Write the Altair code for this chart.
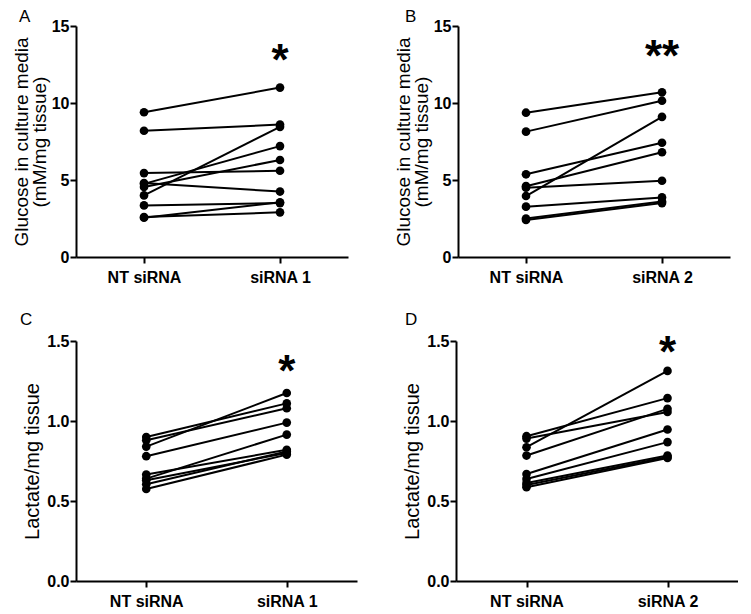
import altair as alt
import pandas as pd

# ---- data ----
cats_top_a = ["NT siRNA", "siRNA 1"]
cats_top_b = ["NT siRNA", "siRNA 2"]

glu_nt_a = [9.4, 8.2, 5.45, 4.0, 4.55, 4.75, 4.8, 3.35, 2.6, 2.55]
glu_si1 = [11.0, 8.6, 5.6, 8.45, 6.3, 7.2, 4.25, 3.5, 2.9, 3.55]

glu_nt_b = [9.37, 8.14, 5.37, 4.6, 3.96, 4.5, 3.27, 2.5, 2.4]
glu_si2 = [10.7, 10.15, 7.42, 6.8, 9.1, 4.95, 3.87, 3.6, 3.5]

lac_nt_c = [0.90, 0.84, 0.88, 0.78, 0.665, 0.64, 0.63, 0.605, 0.575]
lac_si1 = [1.11, 1.175, 1.08, 0.99, 0.82, 0.915, 0.80, 0.81, 0.79]

lac_nt_d = [0.836, 0.905, 0.89, 0.784, 0.669, 0.638, 0.613, 0.586, 0.60]
lac_si2 = [1.313, 1.143, 1.056, 1.076, 0.947, 0.868, 0.784, 0.769, 0.775]

glu_ticks = [0, 5, 10, 15]
lac_ticks = [0.0, 0.5, 1.0, 1.5]

FONT = "Liberation Sans"


def panel(nt, si, cats, ymax, ticks, fmt, title, tfs, lh, tpad, extent,
          letter, letter_x, letter_y, star, star_y, width, height):
    n = len(nt)
    df = pd.DataFrame({
        "subject": list(range(n)) * 2,
        "group": [cats[0]] * n + [cats[1]] * n,
        "value": nt + si,
    })
    x = alt.X("group:N", sort=cats,
              scale=alt.Scale(type="point", padding=0.5, domain=cats),
              axis=alt.Axis(title=None, labelAngle=0, labelFontSize=16,
                            labelFontWeight="bold", labelColor="black",
                            tickSize=6, tickWidth=2, tickColor="black",
                            domainColor="black", domainWidth=2,
                            labelPadding=6, grid=False))
    y = alt.Y("value:Q",
              scale=alt.Scale(domain=[0, ymax], nice=False, zero=True),
              axis=alt.Axis(values=ticks, format=fmt, title=title,
                            titleFontSize=tfs, titleFontWeight="normal",
                            titleColor="black", titleLineHeight=lh,
                            titlePadding=tpad, minExtent=extent,
                            maxExtent=extent, labelFontSize=16,
                            labelFontWeight="bold", labelColor="black",
                            tickSize=6, tickWidth=2, tickColor="black",
                            domainColor="black", domainWidth=2,
                            labelPadding=1, grid=False))
    base = alt.Chart(df)
    lines = base.mark_line(color="black", strokeWidth=2).encode(
        x=x, y=y, detail="subject:N")
    pts = base.mark_circle(size=75, color="black", opacity=1).encode(x=x, y=y)
    let = alt.Chart(pd.DataFrame({"t": [letter]})).mark_text(
        align="left", baseline="alphabetic", fontSize=17, color="black"
    ).encode(x=alt.value(letter_x), y=alt.value(letter_y), text="t:N")
    st = alt.Chart(pd.DataFrame({"group": [cats[1]], "s": [star]})).mark_text(
        align="center", baseline="alphabetic", fontSize=44,
        fontWeight="bold", color="black"
    ).encode(x=x, y=alt.value(star_y), text="s:N")
    return alt.layer(lines, pts, st, let).properties(width=width, height=height)


glu_title = ["Glucose in culture media", "(mM/mg tissue)"]
lac_title = ["", "Lactate/mg tissue"]

A = panel(glu_nt_a, glu_si1, cats_top_a, 15, glu_ticks, "d", glu_title, 19,
          18, 1, 26, "A", -57, -4, "*", 49, 272, 231)
B = panel(glu_nt_b, glu_si2, cats_top_b, 15, glu_ticks, "d", glu_title, 19,
          18, 1, 26, "B", -53, -4, "**", 44.5, 272, 231)
C = panel(lac_nt_c, lac_si1, cats_top_a, 1.5, lac_ticks, ".1f", lac_title, 20,
          8, 1, 33, "C", -56, -16, "*", 44.5, 281, 240)
D = panel(lac_nt_d, lac_si2, cats_top_b, 1.5, lac_ticks, ".1f", lac_title, 20,
          8, 1, 33, "D", -51, -16, "*", 26, 282, 240)

chart = alt.vconcat(
    alt.hconcat(A, B, spacing=46),
    alt.hconcat(C, D, spacing=37),
    spacing=26,
).properties(
    padding={"left": 4, "top": 0, "right": 0, "bottom": 0}
).configure(font=FONT).configure_view(stroke=None)

chart.save("out.html", embed_options={"renderer": "svg", "actions": False})
